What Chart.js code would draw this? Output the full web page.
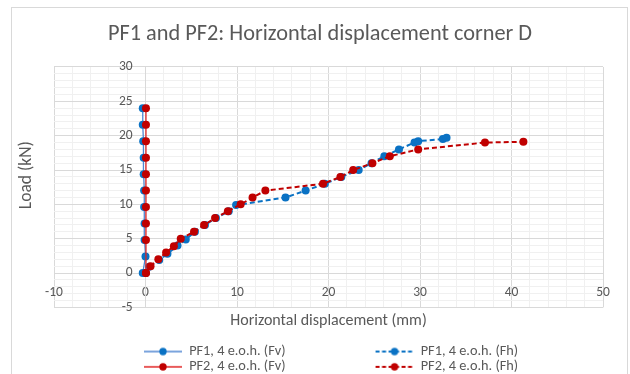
<!DOCTYPE html>
<html>
<head>
<meta charset="utf-8">
<script src="https://cdn.jsdelivr.net/npm/chart.js@4/dist/chart.umd.min.js"></script>
<style>
  html, body { margin: 0; padding: 0; width: 630px; height: 374px; overflow: hidden; background: #fff; }
  #frame { position: absolute; left: 11px; top: 7px; width: 615px; height: 400px; border: 1px solid #d9d9d9; }
  #wrap { position: absolute; left: 0; top: 0; width: 630px; height: 374px; }
</style>
</head>
<body>
<div id="frame"></div>
<div id="wrap"><canvas id="chart" width="630" height="374"></canvas></div>
<script>
// Series labels
const seriesNames = ['PF1, 4 e.o.h. (Fv)', 'PF1, 4 e.o.h. (Fh)', 'PF2, 4 e.o.h. (Fv)', 'PF2, 4 e.o.h. (Fh)'];

// PF1, vertical-load case: horizontal displacement (mm) vs load (kN)
const pf1FvDisp = [-0.3, 0.0, -0.1, -0.1, -0.15, -0.15, -0.2, -0.2, -0.25, -0.3, -0.3];
const pf1FvLoad = [0, 2.4, 4.8, 7.2, 9.6, 12.0, 14.4, 16.8, 19.2, 21.6, 24.0];

// PF1, horizontal-load case
const pf1FhDisp = [0, 0.4, 1.5, 2.4, 3.5, 4.4, 5.4, 6.5, 7.7, 9.1, 9.9, 15.3, 17.5, 19.6, 21.4, 23.3, 24.7, 26.1, 27.7, 29.4, 29.8, 32.5, 32.9];
const pf1FhLoad = [0, 0.9, 1.9, 2.8, 4.0, 4.9, 6.0, 7.0, 8.0, 9.0, 9.9, 11.0, 12.0, 13.0, 14.0, 15.0, 16.0, 17.0, 18.0, 19.0, 19.2, 19.5, 19.7];

// PF2, vertical-load case
const pf2FvDisp = [0.05, 0.05, 0.05, 0.05, 0.05, 0.05, 0.05, 0.05, 0.05, 0.05];
const pf2FvLoad = [0, 4.8, 7.2, 9.6, 12.0, 14.4, 16.8, 19.2, 21.6, 24.0];

// PF2, horizontal-load case
const pf2FhDisp = [0.05, 0.55, 1.4, 2.25, 3.1, 3.85, 5.3, 6.4, 7.6, 9.0, 10.4, 11.7, 13.1, 19.4, 21.3, 22.7, 24.8, 26.7, 29.8, 37.1, 41.3];
const pf2FhLoad = [0, 1.0, 2.0, 3.0, 3.9, 5.0, 6.0, 7.0, 8.0, 9.0, 10.0, 11.0, 12.0, 13.0, 14.0, 15.0, 16.0, 17.0, 18.0, 19.0, 19.1];

// Labelled axis values
const xTickLabels = [-10, 0, 10, 20, 30, 40, 50];
const yTickLabels = [-5, 0, 5, 10, 15, 20, 25, 30];

const FONT = "Carlito, Lato, 'Open Sans', sans-serif";
const TEXT = '#595959';
const BLUE = '#0a72c4';
const BLUE_LINE = '#4f86d2';
const RED = '#c00000';
const RED_LINE = '#e02424';

const toPoints = (xs, ys) => xs.map((x, i) => ({ x, y: ys[i] }));

// Legend glyph: a short line with a marker in its middle, drawn at the right end of the box
const SYM_W = 127, SYM_OFF = 89;
function legendSymbol(lineColor, markerColor, dashed) {
  const c = document.createElement('canvas');
  c.width = SYM_W; c.height = 10;
  const g = c.getContext('2d');
  g.strokeStyle = lineColor;
  g.lineWidth = dashed ? 2 : 1.3;
  if (dashed) g.setLineDash([4, 2.5]);
  g.beginPath(); g.moveTo(SYM_OFF, 5); g.lineTo(SYM_OFF + 38, 5); g.stroke();
  g.fillStyle = markerColor;
  g.beginPath(); g.arc(SYM_OFF + 19, 5, 3.7, 0, Math.PI * 2); g.fill();
  return c;
}
const legendSymbols = [
  legendSymbol(BLUE_LINE, BLUE, false),
  legendSymbol(BLUE, BLUE, true),
  legendSymbol(RED_LINE, RED, false),
  legendSymbol(RED, RED, true)
];

const gridColor = (ctx, majors) => (ctx.tick && majors.includes(ctx.tick.value)) ? '#d9d9d9' : '#f0f0f0';
const hidden = { ticks: { display: false }, grid: { display: false, drawTicks: false }, border: { display: false } };

const common = { showLine: true, pointRadius: 4, pointHoverRadius: 4, pointBorderWidth: 0, xAxisID: 'x', yAxisID: 'y' };

// Moves the rotated load title a little above the middle of the plot
const titlePlacement = {
  id: 'titlePlacement',
  afterLayout(chart) { chart.scales.yTitle.bottom -= 24; }
};

new Chart(document.getElementById('chart'), {
  type: 'scatter',
  plugins: [titlePlacement],
  data: {
    datasets: [
      { ...common, label: seriesNames[0], data: toPoints(pf1FvDisp, pf1FvLoad), borderColor: BLUE_LINE, borderWidth: 1.3,
        backgroundColor: BLUE, pointBackgroundColor: BLUE, order: 3 },
      { ...common, label: seriesNames[1], data: toPoints(pf1FhDisp, pf1FhLoad), borderColor: BLUE, borderWidth: 2, borderDash: [5, 3],
        backgroundColor: BLUE, pointBackgroundColor: BLUE, order: 2 },
      { ...common, label: seriesNames[2], data: toPoints(pf2FvDisp, pf2FvLoad), borderColor: RED_LINE, borderWidth: 1.3,
        backgroundColor: RED, pointBackgroundColor: RED, order: 1 },
      { ...common, label: seriesNames[3], data: toPoints(pf2FhDisp, pf2FhLoad), borderColor: RED, borderWidth: 2, borderDash: [5, 3],
        backgroundColor: RED, pointBackgroundColor: RED, order: 0 }
    ]
  },
  options: {
    responsive: false,
    animation: false,
    layout: { autoPadding: false, padding: { left: 12, right: 2, top: 12, bottom: -10 } },
    plugins: {
      tooltip: { enabled: false },
      title: {
        display: true,
        text: 'PF1 and PF2: Horizontal displacement corner D',
        color: TEXT,
        font: { family: FONT, size: 22.3, weight: 'normal' },
        padding: { top: 9, bottom: 19.2 }
      },
      legend: {
        position: 'bottom',
        align: 'start',
        fullSize: false,
        labels: {
          usePointStyle: true,
          pointStyleWidth: SYM_W,
          boxHeight: 14,
          padding: 1,
          color: TEXT,
          font: { family: FONT, size: 14.3 },
          generateLabels: (chart) => chart.data.datasets.map((ds, i) => ({
            text: ds.label,
            pointStyle: legendSymbols[i],
            fontColor: TEXT,
            datasetIndex: i,
            hidden: false,
            lineWidth: 0,
            strokeStyle: 'rgba(0,0,0,0)',
            fillStyle: 'rgba(0,0,0,0)'
          }))
        }
      }
    },
    scales: {
      x: {
        type: 'linear', axis: 'x', position: { y: 0 },
        min: -10, max: 50,
        ticks: {
          stepSize: 2, autoSkip: false, maxRotation: 0, padding: 11, color: TEXT,
          font: { family: FONT, size: 13.5 },
          callback: (v) => xTickLabels.includes(v) ? String(v) : ''
        },
        grid: { drawTicks: false, color: (ctx) => gridColor(ctx, xTickLabels), lineWidth: 1 },
        border: { display: true, color: '#d9d9d9' }
      },
      // vertical axis crossing at zero displacement: grid and axis line
      y: {
        type: 'linear', axis: 'y', position: { x: 0 },
        min: -5, max: 30,
        ticks: { stepSize: 1, autoSkip: false, display: false },
        grid: { drawTicks: false, color: (ctx) => gridColor(ctx, yTickLabels), lineWidth: 1 },
        border: { display: true, color: '#d9d9d9' }
      },
      // its labels, set a short distance left of the axis line
      yLabels: {
        type: 'linear', axis: 'y', position: { x: -1.4 },
        min: -5, max: 30,
        ticks: {
          stepSize: 1, autoSkip: false, color: TEXT,
          font: { family: FONT, size: 13.5 },
          callback: (v) => yTickLabels.includes(v) ? String(v) : ''
        },
        grid: { display: false, drawTicks: false },
        border: { display: false }
      },
      yTitle: {
        type: 'linear', axis: 'y', position: 'left', min: -5, max: 30, ...hidden,
        title: { display: true, text: 'Load (kN)', color: TEXT, font: { family: FONT, size: 17.5 }, padding: { top: 4.5, bottom: 0 } },
        afterFit: (s) => { s.width = 42; }
      },
      yPad: {
        type: 'linear', axis: 'y', position: 'right', min: -5, max: 30, ...hidden,
        afterFit: (s) => { s.width = 25; }
      },
      xTitle: {
        type: 'linear', axis: 'x', position: 'bottom', min: -10, max: 50, ...hidden,
        title: { display: true, text: 'Horizontal displacement (mm)', color: TEXT, font: { family: FONT, size: 16 }, padding: { top: 0, bottom: 12.4 } },
        afterFit: (s) => { s.height = 36; }
      }
    }
  }
});
</script>
</body>
</html>
